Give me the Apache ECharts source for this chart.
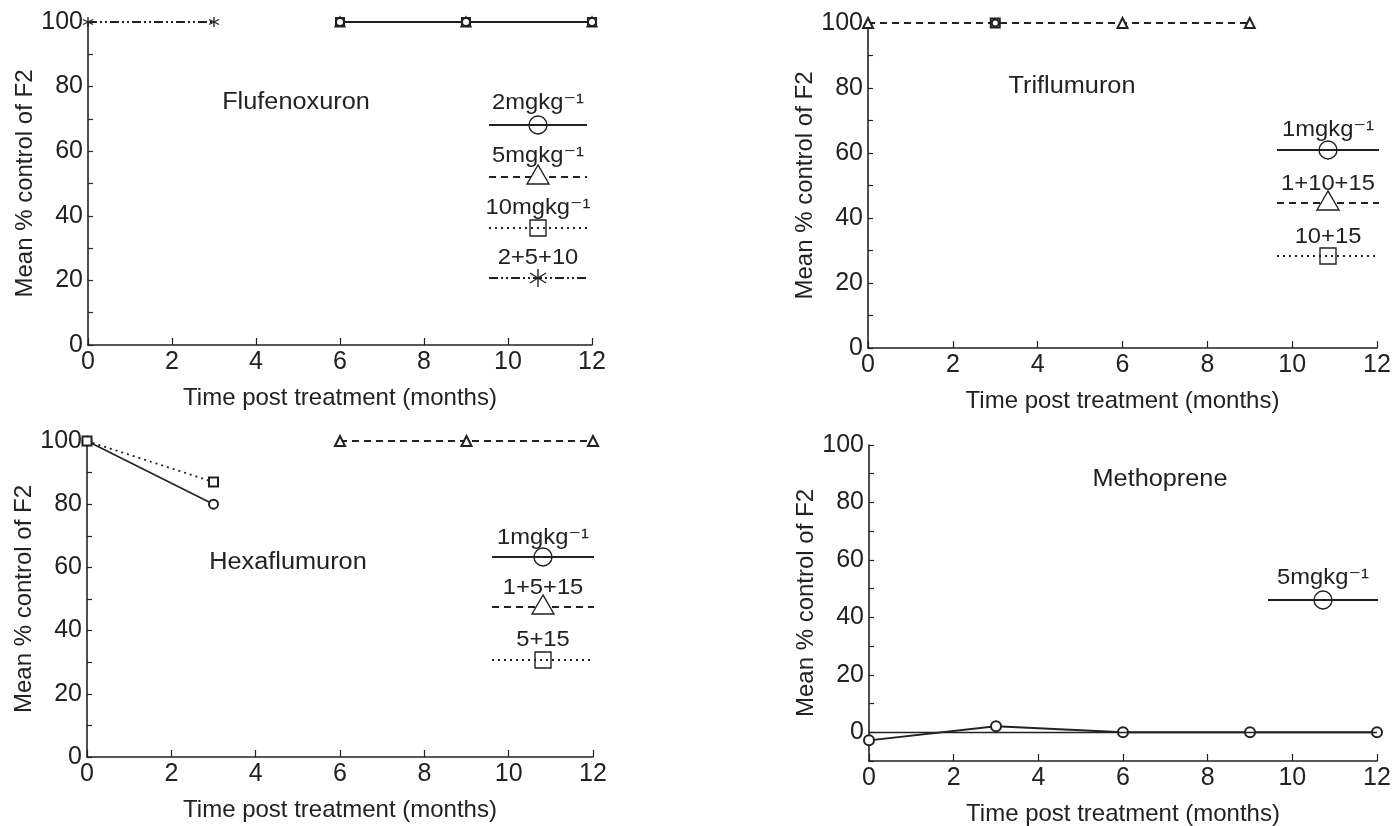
<!DOCTYPE html>
<html>
<head>
<meta charset="utf-8">
<script src="https://cdn.jsdelivr.net/npm/echarts@6/dist/echarts.min.js"></script>
<style>
html,body{margin:0;padding:0;background:#fff;}
#main{width:1395px;height:826px;}
</style>
</head>
<body>
<div id="main"></div>
<script>
// tick values
var xTicks = [0, 2, 4, 6, 8, 10, 12];
var yTicks = [0, 20, 40, 60, 80, 100];

// Flufenoxuron
var fluX = [6, 9, 12];
var flu2 = [100, 100, 100];
var flu5 = [100, 100, 100];
var flu10 = [100, 100, 100];
var fluMixX = [0, 3];
var fluMix = [100, 100];

// Triflumuron
var tri1X = [3];
var tri1 = [100];
var triMixX = [0, 6, 9];
var triMix = [100, 100, 100];
var tri1015X = [3];
var tri1015 = [100];

// Hexaflumuron
var hex1X = [0, 3];
var hex1 = [100, 80];
var hexMixX = [6, 9, 12];
var hexMix = [100, 100, 100];
var hex515X = [0, 3];
var hex515 = [100, 87];

// Methoprene
var metX = [0, 3, 6, 9, 12];
var met5 = [-2.8, 2.1, 0, 0, 0];

var panelTitles = ['Flufenoxuron', 'Triflumuron', 'Hexaflumuron', 'Methoprene'];
var sup = 'mgkg\u207B\u00B9';

var INK = '#222';
var FONT = '"Liberation Sans", Arial, "DejaVu Sans", sans-serif';
var DASH = [7, 5];
var DOT = [2, 4];
var DASHDOT = [9, 3, 2, 3, 2, 3];
var STAR = 'path://M0,-10L0,10M-8.66,-5L8.66,5M-8.66,5L8.66,-5';

function pairs(xs, ys) {
    var out = [];
    for (var i = 0; i < xs.length; i++) out.push([xs[i], ys[i]]);
    return out;
}

var grids = [
    {left: 88, top: 22, width: 504, height: 323, outerBoundsMode: 'none'},
    {left: 868, top: 23, width: 509, height: 325, outerBoundsMode: 'none'},
    {left: 87, top: 441, width: 506, height: 316, outerBoundsMode: 'none'},
    {left: 869, top: 445, width: 508, height: 316, outerBoundsMode: 'none'}
];

function xAxisFor(i) {
    return {
        type: 'value', gridIndex: i, min: xTicks[0], max: xTicks[xTicks.length - 1], interval: 2,
        name: 'Time post treatment (months)', nameLocation: 'middle', nameGap: 41,
        nameTextStyle: {color: INK, fontSize: 24, fontFamily: FONT},
        axisLine: {onZero: false, lineStyle: {color: INK, width: 1.6}},
        axisTick: {inside: true, length: 7, lineStyle: {color: INK, width: 1.2}},
        axisLabel: {color: INK, fontSize: 25, fontFamily: FONT, margin: 5},
        splitLine: {show: false}
    };
}

function yAxisFor(i, min) {
    return {
        type: 'value', gridIndex: i, min: min, max: 100, interval: 10,
        name: 'Mean % control of F2', nameLocation: 'middle', nameGap: 50,
        nameTextStyle: {color: INK, fontSize: 24, fontFamily: FONT},
        axisLine: {onZero: false, lineStyle: {color: INK, width: 1.6}},
        axisTick: {inside: true, length: 5, lineStyle: {color: INK, width: 1.2}},
        axisLabel: {
            color: INK, fontSize: 25, fontFamily: FONT, margin: 5,
            formatter: function (v) { return yTicks.indexOf(v) >= 0 ? String(v) : ''; }
        },
        splitLine: {show: false}
    };
}

function line(i, name, data, dash, symbol, size) {
    return {
        type: 'line', name: name, xAxisIndex: i, yAxisIndex: i, data: data,
        symbol: symbol, symbolSize: size || 9, showSymbol: true,
        lineStyle: {color: INK, width: 1.8, type: dash},
        itemStyle: {color: INK, borderColor: INK, borderWidth: 1.3},
        animation: false, z: 3
    };
}

// legend entries drawn with graphic elements
function legendEntry(cx, ty, ly, half, label, dash, shape) {
    var els = [];
    els.push({type: 'text', x: cx, y: ty, scaleX: 1.08, style: {text: label, fill: INK, font: '22px ' + FONT, align: 'center', verticalAlign: 'middle'}});
    els.push({type: 'line', shape: {x1: cx - half, y1: ly, x2: cx + half, y2: ly},
        style: {stroke: INK, lineWidth: 1.8, lineDash: dash}});
    var mk = {fill: '#fff', stroke: INK, lineWidth: 1.4};
    if (shape === 'circle') els.push({type: 'circle', shape: {cx: cx, cy: ly, r: 9}, style: {fill: 'none', stroke: INK, lineWidth: 1.4}, z: 10});
    if (shape === 'triangle') els.push({type: 'polygon', shape: {points: [[cx, ly - 12], [cx - 11, ly + 7], [cx + 11, ly + 7]]}, style: mk, z: 10});
    if (shape === 'rect') els.push({type: 'rect', shape: {x: cx - 8, y: ly - 8, width: 16, height: 16}, style: {fill: 'none', stroke: INK, lineWidth: 1.4}, z: 10});
    if (shape === 'star') {
        var arms = [[0, -9, 0, 9], [-8, -5, 8, 5], [-8, 5, 8, -5]];
        for (var k = 0; k < arms.length; k++) {
            els.push({type: 'line', shape: {x1: cx + arms[k][0], y1: ly + arms[k][1], x2: cx + arms[k][2], y2: ly + arms[k][3]},
                style: {stroke: INK, lineWidth: 1.4}, z: 10});
        }
    }
    return els;
}

function title(cx, cy, text) {
    return {type: 'text', x: cx, y: cy, scaleX: 1.1, style: {text: text, fill: INK, font: '23px ' + FONT, align: 'center', verticalAlign: 'middle'}};
}

var graphics = [
    title(296, 103, panelTitles[0]),
    title(1072, 87, panelTitles[1]),
    title(288, 563, panelTitles[2]),
    title(1160, 480, panelTitles[3])
]
    .concat(legendEntry(538, 103, 125, 49, '2' + sup, null, 'circle'))
    .concat(legendEntry(538, 156, 177, 49, '5' + sup, DASH, 'triangle'))
    .concat(legendEntry(538, 208, 228, 49, '10' + sup, DOT, 'rect'))
    .concat(legendEntry(538, 258, 278, 49, '2+5+10', DASHDOT, 'star'))
    .concat(legendEntry(1328, 130, 150, 51, '1' + sup, null, 'circle'))
    .concat(legendEntry(1328, 184, 203, 51, '1+10+15', DASH, 'triangle'))
    .concat(legendEntry(1328, 237, 256, 51, '10+15', DOT, 'rect'))
    .concat(legendEntry(543, 538, 557, 51, '1' + sup, null, 'circle'))
    .concat(legendEntry(543, 588, 607, 51, '1+5+15', DASH, 'triangle'))
    .concat(legendEntry(543, 640, 660, 51, '5+15', DOT, 'rect'))
    .concat(legendEntry(1323, 578, 600, 55, '5' + sup, null, 'circle'));

var dom = document.getElementById('main');
var myChart = echarts.init(dom, null, {renderer: 'canvas'});

var starSeries = line(0, '2+5+10', pairs(fluMixX, fluMix), DASHDOT, STAR, 10);
starSeries.itemStyle = {color: 'none', borderColor: INK, borderWidth: 1.3};

var metSeries = line(3, '5mgkg', pairs(metX, met5), 'solid', 'emptyCircle', 10);
metSeries.markLine = {
    silent: true, symbol: 'none', label: {show: false}, animation: false,
    lineStyle: {color: INK, width: 1.3, type: 'solid'},
    data: [{yAxis: 0}]
};

myChart.setOption({
    backgroundColor: '#fff',
    animation: false,
    grid: grids,
    xAxis: [xAxisFor(0), xAxisFor(1), xAxisFor(2), xAxisFor(3)],
    yAxis: [yAxisFor(0, 0), yAxisFor(1, 0), yAxisFor(2, 0), yAxisFor(3, -10)],
    series: [
        line(0, '10mgkg', pairs(fluX, flu10), DOT, 'emptyRect', 8),
        line(0, '5mgkg', pairs(fluX, flu5), DASH, 'emptyTriangle', 9),
        line(0, '2mgkg', pairs(fluX, flu2), 'solid', 'emptyCircle', 8),
        starSeries,
        line(1, '1+10+15', pairs(triMixX, triMix), DASH, 'emptyTriangle', 10),
        line(1, '10+15', pairs(tri1015X, tri1015), DOT, 'emptyRect', 9),
        line(1, '1mgkg', pairs(tri1X, tri1), 'solid', 'emptyCircle', 7),
        line(2, '1mgkg', pairs(hex1X, hex1), 'solid', 'emptyCircle', 9),
        line(2, '5+15', pairs(hex515X, hex515), DOT, 'emptyRect', 9),
        line(2, '1+5+15', pairs(hexMixX, hexMix), DASH, 'emptyTriangle', 10),
        metSeries
    ],
    graphic: graphics
});
</script>
</body>
</html>
